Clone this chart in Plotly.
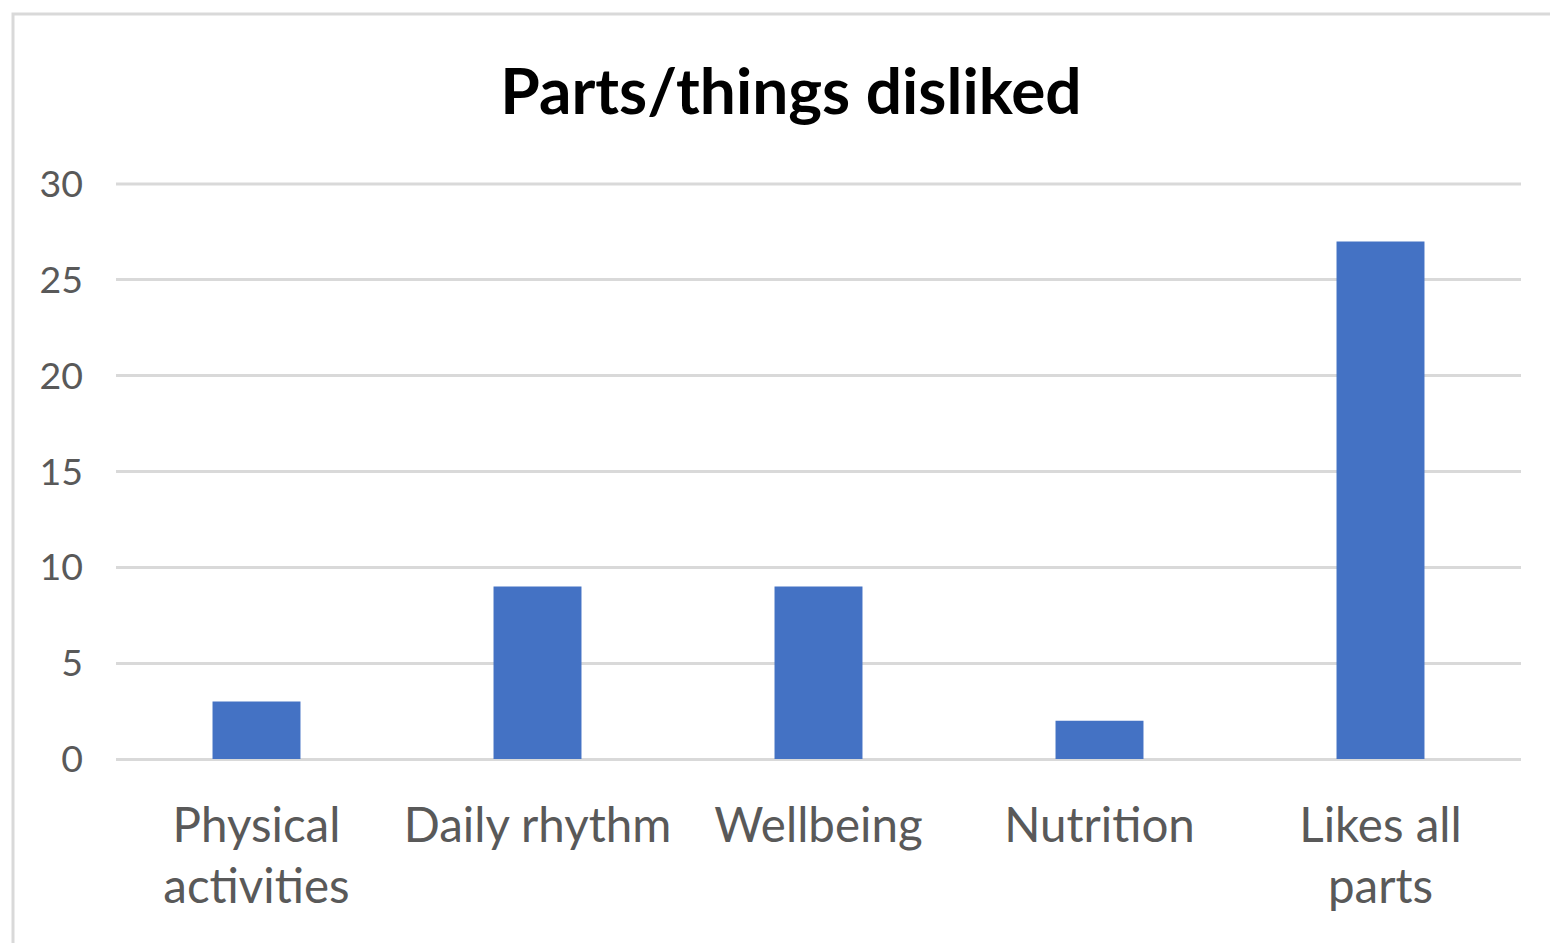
import plotly.graph_objects as go

categories = ["Physical<br>activities", "Daily rhythm", "Wellbeing", "Nutrition", "Likes all<br>parts"]
values = [3, 9, 9, 2, 27]
y_ticks = [0, 5, 10, 15, 20, 25, 30]

OFF = 8  # page body margin
W, H = 1558 - OFF, 943 - OFF
L, R, T, B = 116 - OFF, 37, 184 - OFF, 184
pw, ph = W - L - R, H - T - B

def px_x(px):
    return (px - OFF - L) / pw

def px_y(py):
    return (H - B - (py - OFF)) / ph

fig = go.Figure(go.Bar(x=categories, y=values, marker=dict(color="#4472C4", line=dict(width=0))))

fig.update_layout(
    width=W, height=H,
    margin=dict(l=L, r=R, t=T, b=B),
    paper_bgcolor="white", plot_bgcolor="white",
    bargap=0.687,
    showlegend=False,
    title=dict(text="<b>Parts/things disliked</b>", x=px_x(791), xref="paper", xanchor="center",
               y=1 - (92 - OFF) / H, yanchor="middle",
               font=dict(family="Lato", size=64, color="black")),
    font=dict(family="Lato", color="#595959"),
    shapes=[
        dict(type="rect", xref="paper", yref="paper",
             x0=px_x(13), x1=px_x(1575), y0=px_y(965), y1=px_y(14),
             line=dict(color="#D9D9D9", width=3), fillcolor="rgba(0,0,0,0)", layer="below"),
        # top gridline (plotly skips the gridline lying on the plot edge)
        dict(type="line", xref="paper", yref="paper", x0=0, x1=1, y0=1, y1=1,
             line=dict(color="#D9D9D9", width=3), layer="below"),
    ],
)
fig.update_xaxes(showgrid=False, showline=False, ticks="", tickfont=dict(size=47.5, color="#595959"),
                 ticklabelstandoff=34)
fig.update_yaxes(range=[0, 30], tickvals=y_ticks, showgrid=True, gridcolor="#D9D9D9", gridwidth=3,
                 zeroline=True, zerolinecolor="#D9D9D9", zerolinewidth=3, showline=False,
                 tickfont=dict(size=37.5, color="#595959"), ticks="", ticklabelstandoff=32)

fig.write_html("out.html")
